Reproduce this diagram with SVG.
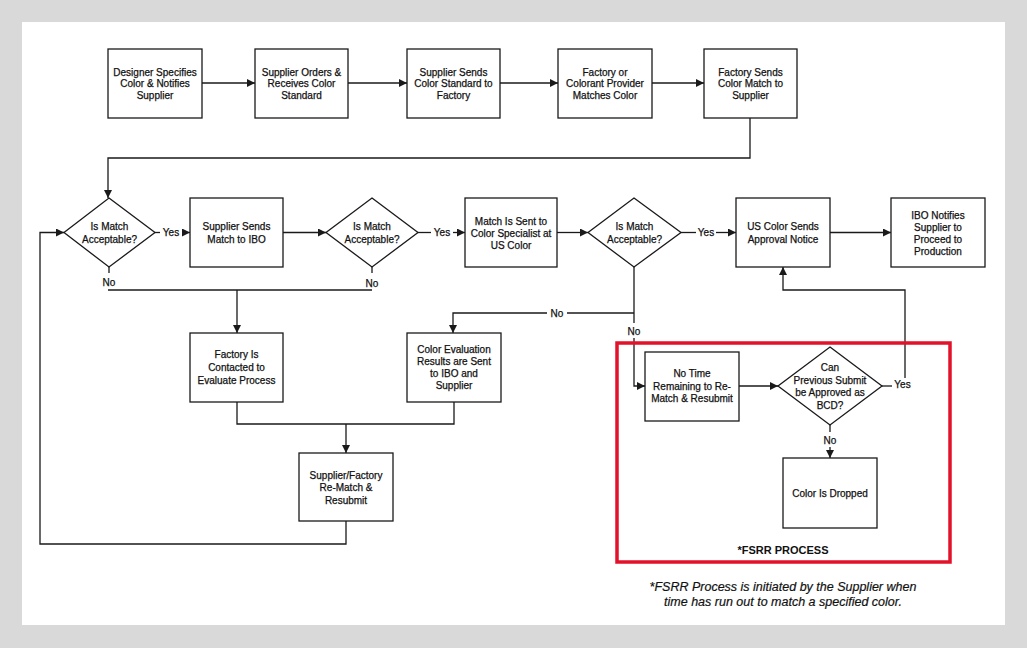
<svg xmlns="http://www.w3.org/2000/svg" width="1027" height="648" viewBox="0 0 1027 648">
<defs>
<style>
.bx{fill:#fff;stroke:#1a1a1a;stroke-width:1.3}
.ln{fill:none;stroke:#1a1a1a;stroke-width:1.3}
.t{font-family:"Liberation Sans",Arial,sans-serif;font-size:10px;fill:#111;stroke:#111;stroke-width:0.25;text-anchor:middle}
.lb{font-family:"Liberation Sans",Arial,sans-serif;font-size:10px;fill:#111;stroke:#111;stroke-width:0.25;text-anchor:middle}
.red{fill:none;stroke:#e3122b;stroke-width:3.5}
.ttl{font-family:"Liberation Sans",Arial,sans-serif;font-size:11px;font-weight:bold;fill:#111;text-anchor:middle}
.fn{font-family:"Liberation Sans",Arial,sans-serif;font-size:12.5px;font-style:italic;fill:#111;stroke:#111;stroke-width:0.2;text-anchor:middle}
</style>
<marker id="ah" markerUnits="userSpaceOnUse" markerWidth="8" markerHeight="8" refX="8" refY="4" orient="auto">
<path d="M0,0 L8,4 L0,8 z" fill="#1a1a1a"/>
</marker>
</defs>
<rect x="0" y="0" width="1027" height="648" fill="#d9d9d9"/>
<rect x="22" y="22" width="983" height="603" fill="#fff"/>

<g id="connectors">
<path class="ln" d="M202,83 H255" marker-end="url(#ah)"/>
<path class="ln" d="M348,83 H407" marker-end="url(#ah)"/>
<path class="ln" d="M500,83 H558" marker-end="url(#ah)"/>
<path class="ln" d="M652,83 H704" marker-end="url(#ah)"/>
<path class="ln" d="M750,118 V158 H108 V198" marker-end="url(#ah)"/>
<path class="ln" d="M155,232.5 H160"/>
<path class="ln" d="M182,232.5 H190" marker-end="url(#ah)"/>
<path class="ln" d="M283,232.5 H326" marker-end="url(#ah)"/>
<path class="ln" d="M418,232.5 H431"/>
<path class="ln" d="M453,232.5 H465" marker-end="url(#ah)"/>
<path class="ln" d="M557,232.5 H588" marker-end="url(#ah)"/>
<path class="ln" d="M681,232.5 H696"/>
<path class="ln" d="M716,232.5 H736" marker-end="url(#ah)"/>
<path class="ln" d="M830,232.5 H891" marker-end="url(#ah)"/>
<path class="ln" d="M109,267 V273"/>
<path class="ln" d="M372,267 V273"/>
<path class="ln" d="M108,290 H372"/>
<path class="ln" d="M237,290 V333" marker-end="url(#ah)"/>
<path class="ln" d="M634,267 V323"/>
<path class="ln" d="M634,313 H567"/>
<path class="ln" d="M547,313 H453 V333" marker-end="url(#ah)"/>
<path class="ln" d="M634,338 V386 H645" marker-end="url(#ah)"/>
<path class="ln" d="M237,402 V424 H454 V402"/>
<path class="ln" d="M346,424 V453" marker-end="url(#ah)"/>
<path class="ln" d="M346,521 V544 H40 V232.5 H64" marker-end="url(#ah)"/>
<path class="ln" d="M739,386 H778" marker-end="url(#ah)"/>
<path class="ln" d="M882,386 H892"/>
<path class="ln" d="M905,378 V290 H783 V267" marker-end="url(#ah)"/>
<path class="ln" d="M830,425 V432"/>
<path class="ln" d="M830,447 V458" marker-end="url(#ah)"/>
<text class="lb" x="171" y="236">Yes</text>
<text class="lb" x="442" y="236">Yes</text>
<text class="lb" x="706" y="236">Yes</text>
<text class="lb" x="109" y="285.5">No</text>
<text class="lb" x="372" y="286.5">No</text>
<text class="lb" x="557" y="316.5">No</text>
<text class="lb" x="634" y="334.5">No</text>
<text class="lb" x="902.5" y="387.5">Yes</text>
<text class="lb" x="830" y="443.5">No</text>
</g>

<g id="n1"><rect class="bx" x="108" y="49" width="94" height="69"/>
<text class="t" x="155" y="75.5">Designer Specifies</text><text class="t" x="155" y="87">Color &amp; Notifies</text><text class="t" x="155" y="98.5">Supplier</text></g>
<g id="n2"><rect class="bx" x="255" y="49" width="93" height="69"/>
<text class="t" x="301.5" y="75.5">Supplier Orders &amp;</text><text class="t" x="301.5" y="87">Receives Color</text><text class="t" x="301.5" y="98.5">Standard</text></g>
<g id="n3"><rect class="bx" x="407" y="49" width="93" height="69"/>
<text class="t" x="453.5" y="75.5">Supplier Sends</text><text class="t" x="453.5" y="87">Color Standard to</text><text class="t" x="453.5" y="98.5">Factory</text></g>
<g id="n4"><rect class="bx" x="558" y="49" width="94" height="69"/>
<text class="t" x="605" y="75.5">Factory or</text><text class="t" x="605" y="87">Colorant Provider</text><text class="t" x="605" y="98.5">Matches Color</text></g>
<g id="n5"><rect class="bx" x="704" y="49" width="93" height="69"/>
<text class="t" x="750.5" y="75.5">Factory Sends</text><text class="t" x="750.5" y="87">Color Match to</text><text class="t" x="750.5" y="98.5">Supplier</text></g>

<g id="d1"><polygon class="bx" points="109,198 155,232.5 109,267 64,232.5"/>
<text class="t" x="109.5" y="229.5">Is Match</text><text class="t" x="109.5" y="242.5">Acceptable?</text></g>
<g id="n6"><rect class="bx" x="190" y="198" width="93" height="69"/>
<text class="t" x="236.5" y="229.5">Supplier Sends</text><text class="t" x="236.5" y="242.5">Match to IBO</text></g>
<g id="d2"><polygon class="bx" points="372,198 418,232.5 372,267 326,232.5"/>
<text class="t" x="372" y="229.5">Is Match</text><text class="t" x="372" y="242.5">Acceptable?</text></g>
<g id="n7"><rect class="bx" x="465" y="198" width="92" height="69"/>
<text class="t" x="511" y="224.5">Match Is Sent to</text><text class="t" x="511" y="236.5">Color Specialist at</text><text class="t" x="511" y="248.5">US Color</text></g>
<g id="d3"><polygon class="bx" points="634,198 681,232.5 634,267 588,232.5"/>
<text class="t" x="634.5" y="229.5">Is Match</text><text class="t" x="634.5" y="242.5">Acceptable?</text></g>
<g id="n8"><rect class="bx" x="736" y="198" width="94" height="69"/>
<text class="t" x="783" y="229.5">US Color Sends</text><text class="t" x="783" y="242.5">Approval Notice</text></g>
<g id="n9"><rect class="bx" x="891" y="198" width="94" height="69"/>
<text class="t" x="938" y="218.5">IBO Notifies</text><text class="t" x="938" y="230.5">Supplier to</text><text class="t" x="938" y="242.5">Proceed to</text><text class="t" x="938" y="254.5">Production</text></g>

<g id="n10"><rect class="bx" x="190" y="333" width="93" height="69"/>
<text class="t" x="236.5" y="357.5">Factory Is</text><text class="t" x="236.5" y="370.5">Contacted to</text><text class="t" x="236.5" y="383.5">Evaluate Process</text></g>
<g id="n11"><rect class="bx" x="407" y="333" width="94" height="69"/>
<text class="t" x="454" y="352.5">Color Evaluation</text><text class="t" x="454" y="364.5">Results are Sent</text><text class="t" x="454" y="376.5">to IBO and</text><text class="t" x="454" y="388.5">Supplier</text></g>
<g id="n12"><rect class="bx" x="299" y="453" width="94" height="68"/>
<text class="t" x="346" y="478.5">Supplier/Factory</text><text class="t" x="346" y="490.5">Re-Match &amp;</text><text class="t" x="346" y="503.5">Resubmit</text></g>

<g id="fsrr"><rect class="red" x="617" y="343" width="333" height="219"/>
<text class="ttl" x="783" y="554">*FSRR PROCESS</text></g>
<g id="n13"><rect class="bx" x="645" y="352" width="94" height="69"/>
<text class="t" x="692" y="376.5">No Time</text><text class="t" x="692" y="389.5">Remaining to Re-</text><text class="t" x="692" y="401.5">Match &amp; Resubmit</text></g>
<g id="d4"><polygon class="bx" points="830,347 882,386 830,425 778,386"/>
<text class="t" x="830" y="370.5">Can</text><text class="t" x="830" y="383.5">Previous Submit</text><text class="t" x="830" y="395.5">be Approved as</text><text class="t" x="830" y="408.5">BCD?</text></g>
<g id="n14"><rect class="bx" x="783" y="458" width="94" height="70"/>
<text class="t" x="830" y="496.5">Color Is Dropped</text></g>

<g id="footnote">
<text class="fn" x="783" y="591">*FSRR Process is initiated by the Supplier when</text>
<text class="fn" x="783" y="606">time has run out to match a specified color.</text>
</g>
</svg>
